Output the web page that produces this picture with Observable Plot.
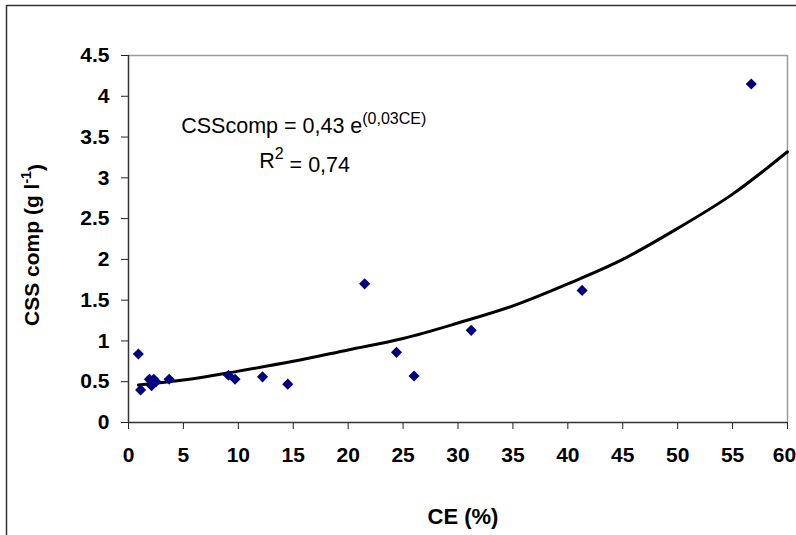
<!DOCTYPE html>
<html>
<head>
<meta charset="utf-8">
<script src="https://cdn.jsdelivr.net/npm/d3@7"></script>
<script src="https://cdn.jsdelivr.net/npm/@observablehq/plot@0.6"></script>
<style>
  html, body { margin: 0; padding: 0; background: #fff; overflow: hidden; }
  #chart svg g[aria-label^="x-axis"] text,
  #chart svg g[aria-label^="y-axis"] text { font-weight: bold; font-size: 21px; fill: #000; }
</style>
</head>
<body>
<div id="chart"></div>
<script>
// Observed data points (CE %, CSS comp g/l)
const ceValues  = [0.9, 1.1, 1.9, 2.1, 2.2, 2.3, 2.5, 3.7, 9.1, 9.7, 12.2, 14.5, 21.5, 24.4, 26.0, 31.2, 41.3, 56.7];
const cssValues = [0.84, 0.40, 0.53, 0.45, 0.48, 0.53, 0.50, 0.53, 0.58, 0.53, 0.56, 0.47, 1.70, 0.86, 0.57, 1.13, 1.62, 4.15];

// Fitted trend line
const fitCE  = [0.9, 5, 10, 15, 20, 25, 30, 35, 40, 45, 50, 55, 60];
const fitCSS = [0.46, 0.52, 0.63, 0.75, 0.89, 1.03, 1.22, 1.43, 1.70, 2.00, 2.38, 2.80, 3.32];

// Tick labels
const xTicks = [0, 5, 10, 15, 20, 25, 30, 35, 40, 45, 50, 55, 60];
const yTicks = [0, 0.5, 1, 1.5, 2, 2.5, 3, 3.5, 4, 4.5];

const points = ceValues.map((x, i) => ({x, y: cssValues[i]}));
const fit = fitCE.map((x, i) => ({x, y: fitCSS[i]}));

const font = "'Liberation Sans', Arial, sans-serif";

const plot = Plot.plot({
  width: 796,
  height: 535,
  marginLeft: 128,
  marginRight: 9,
  marginTop: 55,
  marginBottom: 113,
  style: `font-family: ${font}; font-size: 20px; background: white; color: #222;`,
  x: {domain: [0, 60], ticks: xTicks, tickFormat: d => String(d), tickSize: 7, tickPadding: 18, label: null},
  y: {domain: [0, 4.5], ticks: yTicks, tickFormat: d => String(d), tickSize: 7, tickPadding: 12, label: null},
  marks: [
    Plot.ruleY([4.5], {stroke: "#9a9a9a", strokeWidth: 1.5}),
    Plot.ruleX([60], {stroke: "#9a9a9a", strokeWidth: 1.5}),
    Plot.ruleX([0], {stroke: "#333", strokeWidth: 1.5}),
    Plot.ruleY([0], {stroke: "#333", strokeWidth: 1.5}),
    Plot.line(fit, {x: "x", y: "y", stroke: "black", strokeWidth: 3, curve: "monotone-x"}),
    Plot.dot(points, {x: "x", y: "y", symbol: "diamond2", r: 5, fill: "#000080", stroke: "none"}),
    Plot.text(["CSScomp = 0,43 e"], {x: () => 4.8, y: () => 3.63, text: d => d, textAnchor: "start", fontSize: 21.5, fill: "black"}),
    Plot.text(["R"], {x: () => 11.9, y: () => 3.20, text: d => d, textAnchor: "start", fontSize: 21.5, fill: "black"}),
    Plot.text(["CE (%)"], {frameAnchor: "bottom", textAnchor: "middle", lineAnchor: "middle", dx: 5, dy: 94, text: d => d, fontSize: 22, fontWeight: "bold", fill: "black"}),
    Plot.text(["CSS comp (g l"], {frameAnchor: "left", textAnchor: "middle", lineAnchor: "middle", dx: -96, dy: 6, rotate: -90, text: d => d, fontSize: 21, fontWeight: "bold", fill: "black"})
  ]
});

document.getElementById("chart").appendChild(plot);

// Superscripts and tspans
const svg = d3.select(plot);
function findText(content) {
  return svg.selectAll("text").filter(function() { return this.textContent === content; });
}
findText("CSScomp = 0,43 e").append("tspan").attr("dy", "-0.6em").attr("font-size", 16).text("(0,03CE)");
const r = findText("R");
r.append("tspan").attr("dy", "-0.6em").attr("font-size", 16).text("2");
r.append("tspan").attr("dy", "0.6em").text(" = 0,74");
const yl = findText("CSS comp (g l");
yl.append("tspan").attr("dy", "-0.6em").attr("font-size", 14).text("-1");
yl.append("tspan").attr("dy", "0.6em").text(")");

// keep the last x tick label inside the picture
svg.selectAll('g[aria-label^="x-axis"] text').filter(function() { return this.textContent === "60"; }).attr("dx", -3);

// outer chart-area border (cropped at right and bottom)
svg.append("rect").attr("x", 6.5).attr("y", 5.5).attr("width", 1000).attr("height", 1000)
  .attr("fill", "none").attr("stroke", "#333").attr("stroke-width", 1.5);
</script>
</body>
</html>
